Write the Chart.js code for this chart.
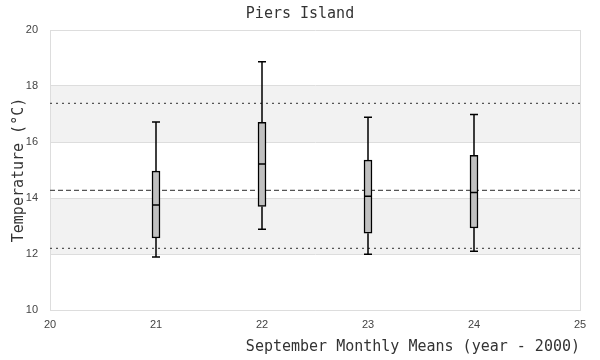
<!DOCTYPE html>
<html>
<head>
<meta charset="utf-8">
<script src="https://cdn.jsdelivr.net/npm/chart.js@4/dist/chart.umd.min.js"></script>
<style>
html,body{margin:0;padding:0;background:#fff;}
#wrap{width:600px;height:360px;}
</style>
</head>
<body>
<div id="wrap"><canvas id="c" width="600" height="360"></canvas></div>
<script>
const years = [21, 22, 23, 24];
const whiskerLow = [11.89, 12.88, 11.99, 12.10];
const q1 = [12.57, 13.70, 12.74, 12.93];
const median = [13.75, 15.21, 14.06, 14.20];
const q3 = [14.96, 16.70, 15.35, 15.52];
const whiskerHigh = [16.71, 18.87, 16.88, 16.98];
const meanLine = 14.27;
const lowerLine = 12.20;
const upperLine = 17.38;
const xRange = [20, 25];
const yRange = [10, 20];
const bands = [[12, 14], [16, 18]];

const monoFont = "'DejaVu Sans Mono', 'Liberation Mono', monospace";
const sansFont = "'Liberation Sans', Arial, sans-serif";

const bandPlugin = {
  id: 'bands',
  beforeDraw(chart) {
    const {ctx, chartArea, scales} = chart;
    ctx.save();
    ctx.fillStyle = '#f2f2f2';
    bands.forEach(([a, b]) => {
      const y1 = scales.y.getPixelForValue(b);
      const y2 = scales.y.getPixelForValue(a);
      ctx.fillRect(chartArea.left, y1, chartArea.right - chartArea.left, y2 - y1);
    });
    ctx.restore();
  }
};

const whiskerPlugin = {
  id: 'whiskers',
  afterDatasetsDraw(chart) {
    const {ctx, scales} = chart;
    const half = 4;
    ctx.save();
    ctx.strokeStyle = '#000';
    ctx.lineWidth = 1.5;
    years.forEach((yr, i) => {
      const x = scales.x.getPixelForValue(yr);
      const yMin = scales.y.getPixelForValue(whiskerLow[i]);
      const yQ1 = scales.y.getPixelForValue(q1[i]);
      const yMed = scales.y.getPixelForValue(median[i]);
      const yQ3 = scales.y.getPixelForValue(q3[i]);
      const yMax = scales.y.getPixelForValue(whiskerHigh[i]);
      ctx.beginPath();
      ctx.moveTo(x, yQ3); ctx.lineTo(x, yMax);
      ctx.moveTo(x - half, yMax); ctx.lineTo(x + half, yMax);
      ctx.moveTo(x, yQ1); ctx.lineTo(x, yMin);
      ctx.moveTo(x - half, yMin); ctx.lineTo(x + half, yMin);
      ctx.moveTo(x - half, yMed); ctx.lineTo(x + half, yMed);
      ctx.stroke();
    });
    ctx.restore();
  }
};

const hLine = (v) => [{x: xRange[0], y: v}, {x: xRange[1], y: v}];

new Chart(document.getElementById('c'), {
  type: 'bar',
  data: {
    datasets: [
      {
        type: 'bar',
        label: 'IQR',
        data: years.map((yr, i) => ({x: yr, y: [q1[i], q3[i]]})),
        backgroundColor: '#c0c0c0',
        borderColor: '#000',
        borderWidth: 1.5,
        borderSkipped: false,
        barThickness: 8,
        order: 1
      },
      {
        type: 'line',
        label: 'mean',
        data: hLine(meanLine),
        borderColor: '#555',
        borderWidth: 1.3,
        borderDash: [5, 3],
        pointRadius: 0,
        order: 2
      },
      {
        type: 'line',
        label: 'upper',
        data: hLine(upperLine),
        borderColor: '#555',
        borderWidth: 1.3,
        borderDash: [2, 4],
        pointRadius: 0,
        order: 2
      },
      {
        type: 'line',
        label: 'lower',
        data: hLine(lowerLine),
        borderColor: '#555',
        borderWidth: 1.3,
        borderDash: [2, 4],
        pointRadius: 0,
        order: 2
      }
    ]
  },
  options: {
    responsive: false,
    animation: false,
    layout: {padding: 0},
    plugins: {
      legend: {display: false},
      tooltip: {enabled: false},
      title: {
        display: true,
        text: 'Piers Island',
        color: '#333',
        font: {family: monoFont, size: 15, weight: 'normal', lineHeight: 1.2},
        padding: {top: 5, bottom: 7}
      }
    },
    scales: {
      x: {
        type: 'linear',
        min: xRange[0],
        max: xRange[1],
        offset: false,
        afterFit(s) { s.height = 50; },
        ticks: {
          stepSize: 1,
          color: '#444',
          font: {family: sansFont, size: 11},
          padding: 8
        },
        grid: {
          offset: false,
          drawTicks: false,
          color: (c) => (c.tick && (c.tick.value === xRange[0] || c.tick.value === xRange[1])) ? '#dddddd' : 'rgba(0,0,0,0)'
        },
        border: {display: true, color: '#dddddd'},
        title: {
          display: true,
          text: 'September Monthly Means (year - 2000)',
          align: 'end',
          color: '#333',
          font: {family: monoFont, size: 15, lineHeight: 1.2},
          padding: {top: 0, bottom: 4}
        }
      },
      y: {
        type: 'linear',
        min: yRange[0],
        max: yRange[1],
        afterFit(s) { s.width = 50; },
        ticks: {
          stepSize: 2,
          color: '#444',
          font: {family: sansFont, size: 11},
          padding: 12
        },
        grid: {drawTicks: false, color: '#dddddd'},
        border: {display: true, color: '#dddddd'},
        title: {
          display: true,
          text: 'Temperature (°C)',
          color: '#333',
          font: {family: monoFont, size: 15, lineHeight: 1.2},
          padding: {top: 10, bottom: 0}
        }
      },
      yRight: {
        type: 'linear',
        position: 'right',
        min: yRange[0],
        max: yRange[1],
        afterFit(s) { s.width = 20; },
        ticks: {display: false},
        grid: {display: false, drawTicks: false},
        border: {display: false}
      }
    }
  },
  plugins: [bandPlugin, whiskerPlugin]
});
</script>
</body>
</html>
